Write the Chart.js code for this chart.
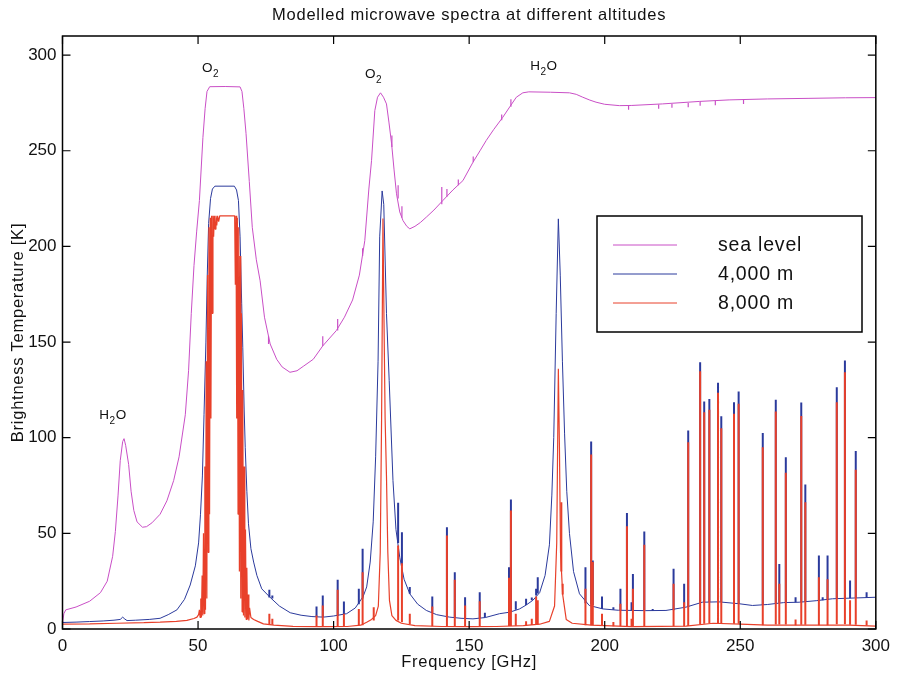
<!DOCTYPE html>
<html>
<head>
<meta charset="utf-8">
<script src="https://cdn.jsdelivr.net/npm/chart.js@4"></script>
<style>
body { margin: 0; background: #fff; }
</style>
</head>
<body>
<canvas id="spectra" width="897" height="675"></canvas>
<script>
// axis ticks
const xTicks = [0, 50, 100, 150, 200, 250, 300];
const yTicks = [0, 50, 100, 150, 200, 250, 300];

// sea level, smooth curve (GHz, K)
const seaFreq = [0, 0.5, 1.2, 5, 10, 14, 16.5, 18.5, 19.5, 20.5, 21.3, 22.2, 22.7, 23.3, 24.4, 25.3, 26.3, 27.5, 29.5, 31, 33, 36, 38.5, 41, 43, 45.3, 46.5, 47.5, 48.5, 49.5, 50.5, 51.8, 52.6, 53.3, 54.3, 60, 65.5, 66.2, 66.9, 67.7, 68.9, 70, 71.5, 72.9, 74.5, 76.6, 79, 81, 83.9, 86.5, 89, 92.5, 96, 101, 104, 107, 109.5, 111.5, 113, 114, 115.2, 116.2, 117.3, 118.4, 119.5, 120.4, 121.4, 122.3, 123.2, 124.4, 125.6, 127, 128.1, 130, 132, 134.2, 137, 140.3, 144, 147.7, 151.4, 154, 156.3, 159, 162.4, 165, 167.4, 169.8, 172, 180, 187, 189.5, 191.9, 194.5, 196.8, 200, 205.4, 210, 221.3, 235, 245.9, 260, 275, 288.8, 300];
const seaTemp = [3, 8, 10, 11.5, 14.5, 19, 25, 38, 51, 70, 88, 98, 99.5, 96, 86, 72, 62, 56, 53.2, 53.5, 55.5, 60, 67, 77.6, 90, 112, 135, 165, 190, 208, 224, 257, 272, 281, 283.5, 283.6, 283.4, 281, 272, 259, 234, 210, 193, 182, 163, 149, 141, 137, 134.2, 135, 137.5, 141, 148, 156, 163, 172, 185, 203, 230, 245, 271, 278, 280.3, 278, 274.5, 265, 253.6, 240, 227.5, 218, 213.5, 210.5, 209.2, 210.5, 212.5, 215.3, 219, 224, 229.5, 234.4, 244, 250, 255.4, 261, 267.5, 273, 278, 280.3, 280.8, 280.6, 280.3, 279.5, 278, 276.5, 275.4, 274.3, 273.6, 273.7, 274.5, 275.8, 276.6, 277.1, 277.4, 277.7, 277.8];

// sea level, small line ticks
const seaLineFreq = [76.0, 96.0, 101.5, 110.7, 121.5, 123.8, 125.2, 139.9, 141.8, 146.0, 151.5, 162.0, 165.4, 208.8, 219.9, 224.8, 230.8, 235.2, 240.8, 251.2];
const seaLineBase = [149, 148, 156, 195, 252, 225, 215, 222, 226, 232, 244, 266, 273, 273.7, 274.2, 274.5, 275, 275.8, 276.1, 276.7];
const seaLinePeak = [153, 153, 162, 199, 258, 232, 221, 231, 230, 235, 247, 269, 277, 271.5, 272, 272.5, 272.8, 273.5, 273.8, 274.5];

// 4,000 m, smooth curve
const alt4Freq = [0, 5, 10, 15, 19, 21.3, 22.2, 23, 23.8, 27, 32, 36, 39, 42.2, 45, 47.1, 49, 50.2, 50.9, 51.6, 52.2, 52.9, 53.4, 53.9, 54.6, 55.3, 56.2, 63.4, 64.2, 64.9, 65.5, 66.1, 66.5, 67, 67.4, 68, 68.6, 69.5, 70.5, 71.7, 73.5, 76.6, 80, 84, 88, 92, 96.2, 100, 104.8, 108, 110.9, 112.2, 113.5, 114.6, 115.5, 116.4, 117, 117.9, 118.5, 119.5, 120.5, 121.9, 123, 124.4, 126, 128.1, 131, 134.2, 138, 142.8, 147, 151.4, 156, 161.2, 165, 168.6, 171, 173.5, 176, 178, 179.6, 180.5, 181.2, 182.1, 182.9, 183.6, 184.4, 185.2, 186, 187, 188.5, 190.7, 194.3, 199.3, 205, 215, 222.6, 229.9, 236, 242, 249.6, 254.5, 260, 266, 271.7, 278, 284, 292, 300];
const alt4Temp = [3.4, 3.6, 3.9, 4.2, 4.6, 5, 6.2, 5.2, 4.4, 4.6, 5, 5.6, 7.5, 10, 15.5, 23, 33, 45, 60, 80, 112, 150, 185, 212, 225, 230, 231.5, 231.5, 229.5, 224, 205, 170, 147, 115, 95, 72, 55, 42, 35, 28, 21, 16.5, 12, 8.5, 7.2, 6.5, 6.2, 6.8, 8, 11, 17, 22, 35, 56, 90, 140, 205, 229, 222, 165, 130, 77.6, 52, 37.5, 26, 18.4, 13, 9.7, 7.5, 6.2, 5.6, 5.3, 6, 8, 8.8, 10.5, 12.5, 15, 19, 28, 44, 70, 100, 165, 214.4, 185, 140, 102, 72, 50, 30, 18.4, 12.3, 10.5, 9.8, 9.6, 9.7, 11.4, 14, 14.2, 13.2, 12.3, 12.8, 13.8, 14, 14.8, 15.8, 16.2, 16.6];

// 8,000 m, smooth curve with the 60 GHz comb
const alt8Freq = [0, 10, 20, 30, 36, 42, 45.9, 48.5, 49.6, 50.2, 50.5, 50.75, 51, 51.25, 51.5, 51.75, 52, 52.25, 52.5, 52.75, 53, 53.25, 53.5, 53.75, 54, 54.25, 54.5, 54.75, 55, 55.25, 55.5, 55.75, 56, 56.3, 56.6, 56.9, 57.2, 57.6, 58, 63.5, 63.75, 64, 64.25, 64.5, 64.75, 65, 65.25, 65.5, 65.75, 66, 66.25, 66.5, 66.75, 67, 67.25, 67.5, 67.75, 68, 68.25, 68.5, 68.75, 69, 69.5, 70.5, 72, 74.1, 78, 85, 95, 105, 110, 112.2, 114, 115.5, 116.5, 117.2, 117.7, 118.2, 118.6, 119, 119.5, 120, 120.6, 121.5, 123, 125, 130, 140, 150, 160, 170, 176, 179.6, 181.5, 182.3, 182.9, 183.3, 183.7, 184.5, 185.8, 188, 195, 210, 230, 240, 250, 260, 275, 290, 300];
const alt8Temp = [2.5, 2.7, 3, 3.3, 3.6, 4, 4.5, 5.5, 6.2, 7.5, 10, 6, 16, 6, 28, 7, 50, 8, 85, 10, 140, 16, 185, 40, 210, 60, 215, 110, 216, 165, 216, 205, 216, 209, 216, 211, 216, 213, 216, 216, 180, 216, 110, 215, 60, 210, 30, 195, 16, 165, 9, 125, 7, 85, 6, 52, 5, 32, 5, 18, 4.5, 11, 6, 5, 4, 2.7, 2, 1.4, 1.2, 1.3, 2, 3.5, 5, 7, 12, 40, 110, 214.6, 160, 110, 80, 40, 15, 7, 4.5, 3, 1.8, 1.3, 1.2, 1.3, 1.8, 2.5, 4, 12, 45, 136, 95, 40, 18, 5, 3, 2, 1.2, 1.5, 3, 2.5, 2, 2, 2, 1.5];

// narrow lines seen at both altitudes (null = not visible)
const lineFreq = [76.3, 77.4, 93.7, 96.0, 101.5, 103.8, 109.3, 110.7, 114.8, 123.8, 125.2, 128.1, 136.4, 141.8, 144.7, 148.5, 153.9, 155.8, 164.7, 165.4, 167.2, 171.0, 173.1, 174.7, 175.3, 184.0, 184.5, 192.9, 195.0, 195.6, 199.0, 203.2, 205.8, 208.2, 209.9, 210.4, 214.6, 217.7, 225.4, 229.3, 230.8, 235.2, 236.7, 238.6, 241.8, 243.0, 247.7, 249.4, 258.3, 263.1, 264.4, 266.8, 270.4, 272.5, 274.0, 279.0, 280.4, 282.2, 285.6, 288.6, 290.5, 292.6, 296.6];
const alt4Base = [16.5, 16, 6.5, 6.2, 6.8, 7.8, 13, 16, null, 45, 33, 18.4, 8.5, 6.3, 5.8, 5.5, 5.6, 6, 8.7, 8.8, 10, 12.5, 15, 17.5, 18.5, null, null, 13.5, 12.8, 12.5, 10.5, 10, 9.8, 9.7, 9.7, 9.7, 9.6, 9.6, 9.8, 11, 11.5, 13.8, 14, 14, 14.2, 14.2, 13.5, 13.2, 12.6, 13.5, 13.7, 13.8, 14, 14, 14.2, 14.8, 15, 15.2, 15.8, 16, 16.1, 16.2, 16.4];
const alt4Peak = [20.5, 17.5, 11.8, 17.5, 25.7, 14.4, 21, 42, null, 66, 50.6, 22, 17, 53.2, 29.7, 16.6, 19.2, 8.5, 32.3, 67.7, 14.5, 15.8, 16.5, 21, 27, null, null, 32.3, 98, 35.8, 17, 11.4, 21, 60.7, 14, 28.8, 51, 10.5, 31.5, 23.6, 103.8, 139.5, 118.9, 120.3, 128.7, 111.2, 118.6, 124.2, 102.4, 119.8, 34, 89.8, 16.6, 118.4, 75.5, 38.4, 16.6, 38.4, 126.4, 140.4, 25.4, 93, 19.2];
const alt8Base = [2.3, 2.2, 1.2, 1.2, 1.3, 1.3, 1.8, 2, 4.5, 4.5, 3.5, 2.5, 1.4, 1.3, 1.3, 1.2, 1.2, null, 1.6, 1.6, 1.7, 1.9, 2.1, 2.2, 2.3, 30, 18, 2, 2, 2, 1.8, 1.5, 1.4, 1.4, 1.3, 1.3, 1.3, null, 1.4, 1.5, 1.6, 2.5, 2.8, 3, 3, 3, 2.8, 2.7, 2, 2.3, 2.3, 2.3, 2, 2.2, 2.2, 2, null, 2, 2.5, 2.5, 2.2, 2.2, 1.8];
const alt8Peak = [8, 5.3, 7, 12.3, 20.5, 8, 10.5, 29.7, 11.4, 43.6, 34.4, 8, 11.8, 48.9, 25.7, 12.3, 14.5, null, 26.8, 62, 8, 4, 5.3, 17, 15, 66.3, 23.6, 21, 91.2, 35, 8, 3.6, 13.2, 53.7, 5.3, 21, 44, null, 23.6, 14, 97.6, 134.8, 113.3, 114.6, 123.5, 105, 112.5, 117.7, 95, 113.7, 23.6, 81.7, 5, 111.4, 66.3, 27, null, 26, 118.6, 134.2, 15, 83.2, 4.4];

// labels on the spectrum
const noteText = ['H2O', 'O2', 'O2', 'H2O'];
const noteFreq = [13.6, 51.5, 111.6, 172.5];
const noteTemp = [110, 291.4, 287.8, 292];

const legendLabels = ['sea level', '4,000 m', '8,000 m'];
const seriesColors = ['#c94fc6', '#2b3a9c', '#e8402a'];

const FONT = '"Liberation Sans", Arial, Helvetica, sans-serif';

function curve(xs, ys) {
    return xs.map((x, i) => ({ x: x, y: ys[i] }));
}

// each line becomes a vertical stroke, separated by gaps
function sticks(xs, base, peak) {
    const pts = [];
    xs.forEach((x, i) => {
        if (base[i] == null || peak[i] == null) return;
        pts.push({ x: x, y: base[i] }, { x: x, y: peak[i] }, { x: x, y: null });
    });
    return pts;
}

function lineSet(data, color, width, order) {
    return {
        data: data,
        borderColor: color,
        borderWidth: width,
        pointRadius: 0,
        tension: 0,
        fill: false,
        spanGaps: false,
        borderJoinStyle: 'bevel',
        borderCapStyle: 'butt',
        order: order
    };
}

const framePlugin = {
    id: 'frame',
    afterDraw(chart) {
        const ctx = chart.ctx;
        const a = chart.chartArea;
        const xs = chart.scales.x;
        const ys = chart.scales.y;
        ctx.save();

        // box and inward ticks on all sides
        ctx.strokeStyle = '#000';
        ctx.lineWidth = 1.5;
        ctx.strokeRect(a.left, a.top, a.right - a.left, a.bottom - a.top);
        ctx.lineWidth = 1.2;
        ctx.beginPath();
        xTicks.forEach(v => {
            const px = xs.getPixelForValue(v);
            ctx.moveTo(px, a.bottom); ctx.lineTo(px, a.bottom - 8);
            ctx.moveTo(px, a.top); ctx.lineTo(px, a.top + 8);
        });
        yTicks.forEach(v => {
            const py = ys.getPixelForValue(v);
            ctx.moveTo(a.left, py); ctx.lineTo(a.left + 8, py);
            ctx.moveTo(a.right, py); ctx.lineTo(a.right - 8, py);
        });
        ctx.stroke();

        // titles
        ctx.fillStyle = '#111';
        ctx.textAlign = 'center';
        ctx.textBaseline = 'middle';
        ctx.font = '16.5px ' + FONT;
        ctx.letterSpacing = '0.75px';
        ctx.fillText('Modelled microwave spectra at different altitudes', (a.left + a.right) / 2, 15);
        ctx.fillText('Frequency [GHz]', (a.left + a.right) / 2, 662);
        ctx.save();
        ctx.translate(18, (a.top + a.bottom) / 2);
        ctx.rotate(-Math.PI / 2);
        ctx.fillText('Brightness Temperature [K]', 0, 0);
        ctx.restore();
        ctx.letterSpacing = '0px';

        // H2O / O2 labels with subscripts
        ctx.textAlign = 'left';
        ctx.textBaseline = 'alphabetic';
        noteText.forEach((t, i) => {
            let px = xs.getPixelForValue(noteFreq[i]);
            const py = ys.getPixelForValue(noteTemp[i]);
            for (const ch of t) {
                const sub = /[0-9]/.test(ch);
                ctx.font = (sub ? '10px ' : '13.5px ') + FONT;
                ctx.fillText(ch, px, py + (sub ? 5 : 0));
                px += ctx.measureText(ch).width + 0.5;
            }
        });

        // legend box
        ctx.fillStyle = '#fff';
        ctx.fillRect(597, 216, 265, 116);
        ctx.strokeStyle = '#000';
        ctx.lineWidth = 1.5;
        ctx.strokeRect(597, 216, 265, 116);
        ctx.font = '19.5px ' + FONT;
        ctx.letterSpacing = '0.8px';
        ctx.textBaseline = 'middle';
        legendLabels.forEach((lab, i) => {
            const y = 245 + i * 29;
            ctx.strokeStyle = seriesColors[i];
            ctx.lineWidth = 1;
            ctx.beginPath();
            ctx.moveTo(613, y);
            ctx.lineTo(677, y);
            ctx.stroke();
            ctx.fillStyle = '#111';
            ctx.fillText(lab, 718, y + 1);
        });
        ctx.restore();
    }
};

new Chart(document.getElementById('spectra'), {
    type: 'line',
    data: {
        datasets: [
            lineSet(sticks(lineFreq, alt8Base, alt8Peak), seriesColors[2], 2, 0),
            lineSet(curve(alt8Freq, alt8Temp), seriesColors[2], 1.2, 1),
            lineSet(sticks(lineFreq, alt4Base, alt4Peak), seriesColors[1], 2, 2),
            lineSet(curve(alt4Freq, alt4Temp), seriesColors[1], 1, 3),
            lineSet(sticks(seaLineFreq, seaLineBase, seaLinePeak), seriesColors[0], 1.2, 4),
            lineSet(curve(seaFreq, seaTemp), seriesColors[0], 1, 5)
        ]
    },
    options: {
        responsive: false,
        animation: false,
        devicePixelRatio: 1,
        layout: { padding: { top: 36, right: 20, left: 0, bottom: 0 } },
        plugins: {
            legend: { display: false },
            tooltip: { enabled: false }
        },
        scales: {
            x: {
                type: 'linear',
                min: 0,
                max: 300,
                afterBuildTicks: s => { s.ticks = xTicks.map(v => ({ value: v })); },
                afterFit: s => { s.height = 46; },
                grid: { display: false, drawTicks: false },
                border: { display: false },
                ticks: { font: { family: FONT, size: 17 }, color: '#111', padding: 7, maxRotation: 0 }
            },
            y: {
                type: 'linear',
                min: 0,
                max: 310,
                afterBuildTicks: s => { s.ticks = yTicks.map(v => ({ value: v })); },
                afterFit: s => { s.width = 62.5; },
                grid: { display: false, drawTicks: false },
                border: { display: false },
                ticks: { font: { family: FONT, size: 17 }, color: '#111', padding: 6 }
            }
        }
    },
    plugins: [framePlugin]
});
</script>
</body>
</html>
